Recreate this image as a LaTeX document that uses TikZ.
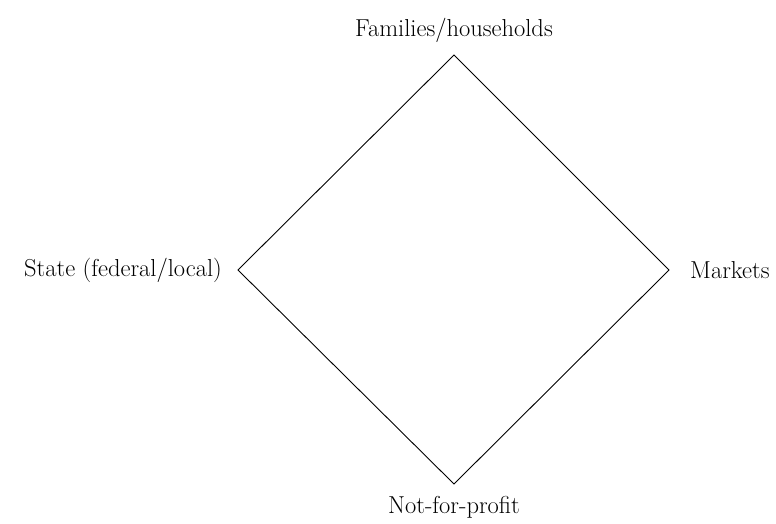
\documentclass[tikz,border=0pt]{standalone}
\usepackage{tikz}
\usetikzlibrary{positioning}

\begin{document}
\begin{tikzpicture}[x=1pt,y=-1pt, font=\fontsize{24.5}{28}\selectfont,
  vertexlabel/.style={inner sep=0pt}]

% --- Cornice
\useasboundingbox (0,0) rectangle (776,524);

% --- Vertici del rombo
\coordinate (fam) at (454,55);
\coordinate (mkt) at (669,270);
\coordinate (nfp) at (454,484);
\coordinate (sta) at (238,270);

% --- Rombo
\draw[line width=0.9pt] (fam) -- (mkt) -- (nfp) -- (sta) -- cycle;

% --- Etichette
\node[vertexlabel, above=12pt of fam] (famlabel) {Families/households};
\node[vertexlabel, right=21pt of mkt] (mktlabel) {Markets};
\node[vertexlabel, below=12pt of nfp] (nfplabel) {Not-for-profit};
\node[vertexlabel, left=16pt of sta] (stalabel) {State (federal/local)};
\end{tikzpicture}
\end{document}
